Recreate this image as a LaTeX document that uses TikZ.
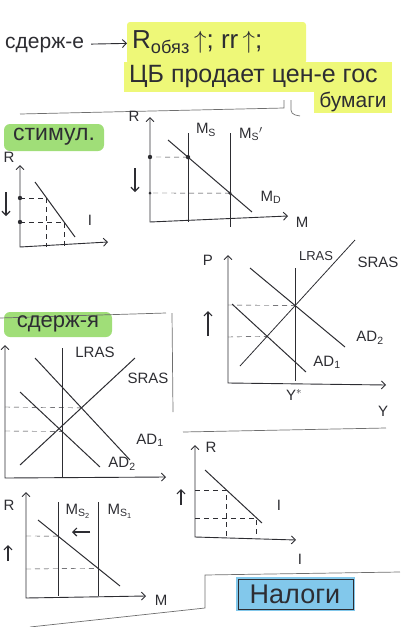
\documentclass[tikz,border=0pt]{standalone}
\usepackage{fontspec}
\setmainfont{Liberation Sans}
\usetikzlibrary{arrows.meta}

\definecolor{ink}{RGB}{45,45,50}
\definecolor{hlyellow}{RGB}{238,248,120}
\definecolor{hlgreen}{RGB}{160,222,120}
\definecolor{hlblue}{RGB}{130,200,235}
\definecolor{edge}{RGB}{110,110,110}

\tikzset{
  axis/.style={ink, line width=0.9pt, <->},
  curve/.style={ink, line width=1pt},
  guide/.style={ink, thin, dash pattern=on 5pt off 4pt},
  cut/.style={edge, line width=0.7pt},
  hand/.style={ink, font=\fontsize{21}{23}\selectfont, inner sep=1pt},
  lbl/.style={ink, font=\fontsize{15}{16}\selectfont, inner sep=1pt},
  shift arrow/.style={ink, line width=1.2pt, ->},
}

\begin{document}
\begin{tikzpicture}[x=1pt, y=-1pt, >={Straight Barb[length=4pt,width=8pt]}]
  \useasboundingbox (0,0) rectangle (406,627);

  % Highlights
  \fill[hlyellow, rounded corners=3pt] (127,22) rectangle (306,64);
  \fill[hlyellow] (124,62) rectangle (392,92);
  \fill[hlyellow] (314,88) rectangle (392,113);
  \fill[hlgreen, rounded corners=6pt] (4,124) rectangle (104,151);
  \fill[hlgreen, rounded corners=6pt] (4,312) rectangle (112,337);
  \fill[hlblue] (236,577) rectangle (355,611);
  \draw[ink, line width=0.8pt] (238,579) rectangle (353,609);

  % Paper edges
  \draw[cut] (20,114) -- (284,108) -- (284,100);
  \draw[cut, rounded corners=4pt] (291,100) -- (291,114) -- (300,116);
  \draw[cut] (0,318) -- (166,313);
  \draw[cut] (172,313) -- (173,412);
  \draw[cut] (183,432) -- (386,428);
  \draw[cut] (400,572) -- (205,575) -- (205,608) -- (30,627);

  % Top note
  \node[hand, anchor=west] (sderzh) at (4,45) {сдерж-е};
  \node[hand, anchor=west, font=\fontsize{26}{28}\selectfont] (rates) at (131,42)
    {R\textsubscript{обяз}\,$\uparrow$;\;rr\,$\uparrow$;};
  \draw[ink, line width=0.9pt, ->, shorten <=6pt, shorten >=4pt] (sderzh) -- (rates);
  \node[hand, anchor=west, font=\fontsize{25}{27}\selectfont] (cb) at (128,76) {ЦБ продает цен-е гос};
  \node[hand, font=\fontsize{21}{23}\selectfont] (bonds) at (353,102) {бумаги};

  % Stimulus label
  \node[hand, font=\fontsize{23}{25}\selectfont] (stim) at (54,137) {стимул.};

  % Stimulus: R - I
  \draw[axis] (20,165) -- (20,247) -- (108,242);
  \node[lbl] (rI) at (9,157) {R};
  \draw[curve] (35,182) -- (75,237);
  \node[lbl] (invI) at (90,220) {I};
  \draw[guide] (20,198) -- (46,198);
  \draw[guide] (20,222) -- (64,222) -- (64,247);
  \draw[guide] (46,198) -- (46,247);
  \fill[ink] (20,198) circle (2.2) (20,222) circle (2.2);
  \draw[shift arrow] (6,192) -- (6,216);

  % Stimulus: money market
  \draw[axis] (150,117) -- (150,222) -- (288,216);
  \node[lbl] (rM) at (134,116) {R};
  \node[lbl] (mM) at (302,222) {M};
  \coordinate (ms1a) at (188,133);
  \coordinate (ms1b) at (188,222);
  \coordinate (ms2a) at (230,133);
  \coordinate (ms2b) at (230,227);
  \coordinate (mda) at (168,140);
  \coordinate (mdb) at (252,212);
  \draw[curve] (ms1a) -- (ms1b);
  \draw[curve] (ms2a) -- (ms2b);
  \draw[curve] (mda) -- (mdb);
  \node[lbl] (msOld) at (206,130) {M\textsubscript{S}};
  \node[lbl] (msNew) at (251,134) {M\textsubscript{S}$'$};
  \node[lbl] (md) at (271,197) {M\textsubscript{D}};
  \coordinate (e1) at (intersection of ms1a--ms1b and mda--mdb);
  \coordinate (e2) at (intersection of ms2a--ms2b and mda--mdb);
  \draw[guide] (e1) -- (150,157);
  \draw[guide] (e2) -- (150,193);
  \fill[ink] (e1) circle (2.2) (e2) circle (1.8) (150,157) circle (2.2) (150,193) circle (1.5);
  \draw[shift arrow] (135,168) -- (135,192);

  % Stimulus: AS - AD
  \draw[axis] (228,255) -- (228,383) -- (386,385);
  \node[lbl] (pA) at (208,260) {P};
  \node[lbl] (yA) at (383,411) {Y};
  \node[lbl] (yStar) at (294,395) {Y$^*$};
  \coordinate (lrA) at (295,268);
  \coordinate (lrB) at (295,381);
  \coordinate (srA) at (240,366);
  \coordinate (srB) at (355,240);
  \coordinate (adTwoA) at (250,268);
  \coordinate (adTwoB) at (345,347);
  \coordinate (adOneA) at (232,304);
  \coordinate (adOneB) at (306,372);
  \draw[curve] (lrA) -- (lrB);
  \draw[curve, line width=0.8pt] (srA) -- (srB);
  \draw[curve] (adTwoA) -- (adTwoB);
  \draw[curve] (adOneA) -- (adOneB);
  \node[lbl, font=\fontsize{13}{14}\selectfont] (lras) at (316,256) {LRAS};
  \node[lbl] (sras) at (378,262) {SRAS};
  \node[lbl] (adTwo) at (370,338) {AD\textsubscript{2}};
  \node[lbl] (adOne) at (327,362) {AD\textsubscript{1}};
  \coordinate (q1) at (intersection of lrA--lrB and adTwoA--adTwoB);
  \coordinate (q2) at (intersection of srA--srB and adOneA--adOneB);
  \draw[guide] (228,305) -- (q1);
  \draw[guide] (228,337) -- (q2);
  \draw[shift arrow] (208,336) -- (208,311);

  % Contraction label
  \node[hand, font=\fontsize{22}{24}\selectfont] (contr) at (58,324) {сдерж-я};

  % Contraction: AS - AD
  \draw[axis] (5,345) -- (5,478) -- (166,477);
  \coordinate (lrC) at (62,348);
  \coordinate (lrD) at (62,478);
  \coordinate (srC) at (20,465);
  \coordinate (srD) at (135,358);
  \coordinate (adOneC) at (35,358);
  \coordinate (adOneD) at (130,460);
  \coordinate (adTwoC) at (20,392);
  \coordinate (adTwoD) at (100,467);
  \draw[curve] (lrC) -- (lrD);
  \draw[curve] (srC) -- (srD);
  \draw[curve] (adOneC) -- (adOneD);
  \draw[curve] (adTwoC) -- (adTwoD);
  \node[lbl] (lrasB) at (95,352) {LRAS};
  \node[lbl] (srasB) at (148,378) {SRAS};
  \node[lbl] (adOneB) at (150,440) {AD\textsubscript{1}};
  \node[lbl] (adTwoB) at (122,464) {AD\textsubscript{2}};
  \coordinate (q3) at (intersection of srC--srD and adOneC--adOneD);
  \coordinate (q4) at (intersection of lrC--lrD and adTwoC--adTwoD);
  \draw[guide] (5,407) -- (q3);
  \draw[guide] (5,431) -- (q4);

  % Contraction: money market
  \draw[axis] (26,492) -- (26,598) -- (146,596);
  \node[lbl] (rMb) at (9,505) {R};
  \node[lbl] (mMb) at (161,600) {M};
  \coordinate (msTwoA) at (58,502);
  \coordinate (msTwoB) at (58,596);
  \coordinate (msOneA) at (98,502);
  \coordinate (msOneB) at (98,596);
  \coordinate (mdc) at (38,520);
  \coordinate (mdd) at (120,586);
  \draw[curve] (msTwoA) -- (msTwoB);
  \draw[curve] (msOneA) -- (msOneB);
  \draw[curve] (mdc) -- (mdd);
  \node[lbl] (msTwo) at (78,511) {M\textsubscript{S\textsubscript{2}}};
  \node[lbl] (msOne) at (120,511) {M\textsubscript{S\textsubscript{1}}};
  \coordinate (e3) at (intersection of msTwoA--msTwoB and mdc--mdd);
  \coordinate (e4) at (intersection of msOneA--msOneB and mdc--mdd);
  \draw[guide] (26,536) -- (e3);
  \draw[guide] (26,569) -- (e4);
  \draw[shift arrow] (90,532) -- (72,532);
  \draw[shift arrow] (8,561) -- (8,545);

  % Contraction: R - I
  \draw[axis] (195,445) -- (195,537) -- (296,540);
  \node[lbl] (rIb) at (211,447) {R};
  \node[lbl] (iAx) at (300,559) {I};
  \coordinate (invA) at (205,470);
  \coordinate (invB) at (262,523);
  \draw[curve] (invA) -- (invB);
  \node[lbl] (invIb) at (279,505) {I};
  \draw[guide] (195,490) -- (226,490) -- (226,537);
  \draw[guide] (195,518) -- (256,518) -- (256,537);
  \draw[shift arrow] (181,505) -- (181,489);

  % Taxes
  \node[hand, font=\fontsize{27}{29}\selectfont] (taxes) at (295,594) {Налоги};

\end{tikzpicture}
\end{document}
